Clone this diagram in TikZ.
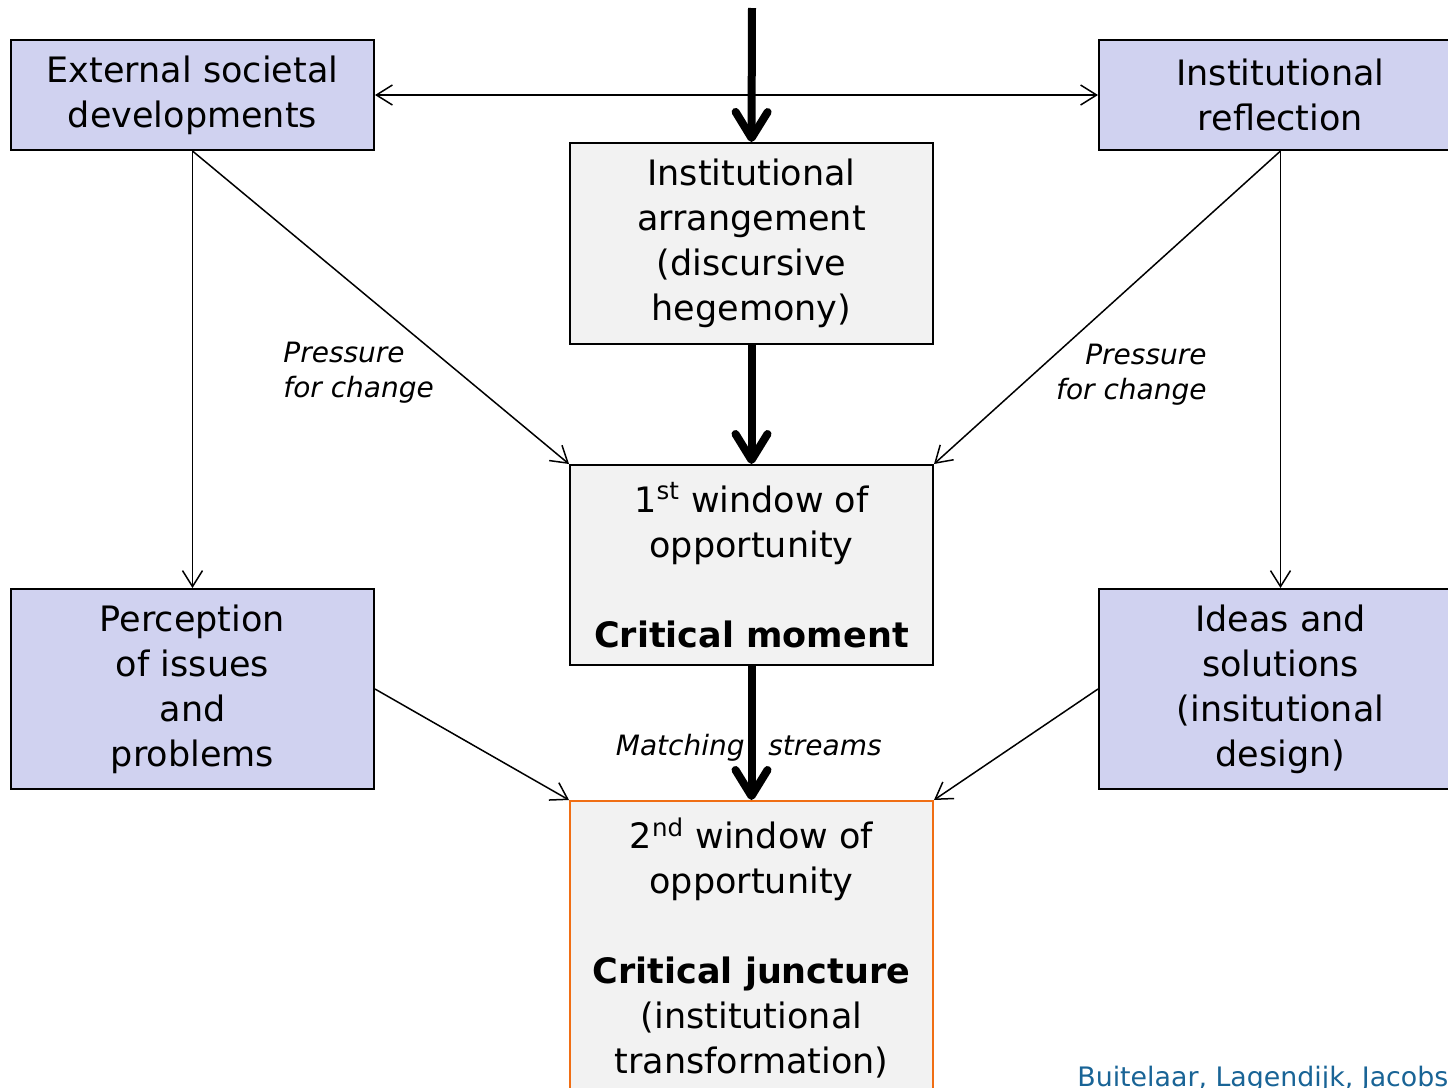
\documentclass[tikz,border=0pt]{standalone}
\usepackage{fontspec}
\setmainfont{DejaVu Sans}
\usetikzlibrary{arrows.meta}
\definecolor{lav}{RGB}{208,210,240}
\definecolor{lgray}{RGB}{242,242,242}
\definecolor{orng}{RGB}{240,110,20}
\definecolor{credit}{RGB}{25,100,150}
\begin{document}
\begin{tikzpicture}[x=0.5pt,y=-0.5pt,
  box/.style={draw=black, line width=1pt, minimum width=181.5pt, inner sep=0pt, align=center, font=\fontsize{17.5}{22.5}\selectfont},
  extbox/.style={box, fill=lav, minimum height=100pt},
  midbox/.style={box, fill=lgray, minimum height=100pt},
  conn/.style={line width=0.75pt, -{Straight Barb[length=8pt,width=10pt]}},
  bigarrow/.style={line width=4pt, -{Straight Barb[length=13pt,width=16pt,round]}},
  lbl/.style={font=\fontsize{14}{17.5}\selectfont\itshape, inner sep=0pt}]
\useasboundingbox (0,0) rectangle (1448,1088);
\fill[white] (0,0) rectangle (1448,1088);

% boxes
\node[extbox, minimum height=55pt] (L) at (192.5,95) {\raisebox{-1.5pt}{\parbox{170pt}{\centering External societal\\developments}}};
\node[extbox, minimum height=55pt] (R) at (1280.5,95) {Institutional\\reflection};
\node[midbox, minimum height=100.5pt] (A) at (751.5,243.5) {Institutional\\arrangement\\(discursive\\hegemony)};
\node[midbox] (W1) at (751.5,565) {1\textsuperscript{st} window of\\opportunity\\[22.5pt]\textbf{Critical moment}};
\node[extbox] (P) at (192.5,689) {Perception\\of issues\\and\\problems};
\node[extbox] (I) at (1280.5,689) {Ideas and\\solutions\\(insitutional\\design)};
\node[midbox, draw=orng, minimum height=147pt] (W2) at (751.5,948) {2\textsuperscript{nd} window of\\opportunity\\[22.5pt]\textbf{Critical juncture}\\(institutional\\transformation)};

% thin connectors
\draw[conn, {Straight Barb[length=8pt,width=10pt]}-{Straight Barb[length=8pt,width=10pt]}] (L.east) -- (R.west);
\draw[conn] (L.south) -- (P.north);
\draw[conn] (L.south) -- (W1.north west);
\draw[conn] (R.south) -- (I.north);
\draw[conn] (R.south) -- (W1.north east);
\draw[conn] (P.east) -- (W2.north west);
\draw[conn] (I.west) -- (W2.north east);

% thick connectors
\coordinate (top) at (752,8);
\draw[bigarrow] (top) -- (A.north);
\draw[bigarrow] (A.south) -- (W1.north);
\draw[bigarrow] (W1.south) -- (W2.north);

% labels
\node[lbl, anchor=north west, align=left] (pl) at (283,342) {Pressure\\for change};
\node[lbl, anchor=north east, align=right] (pr) at (1207,344) {Pressure\\for change};
\node[lbl, anchor=base east] (m1) at (745,755) {Matching};
\node[lbl, anchor=base west] (m2) at (768,755) {streams};
\node[inner sep=0pt, anchor=base west, text=credit, font=\fontsize{13.4}{15}\selectfont] (cr) at (1077,1086) {Buitelaar, Lagendijk, Jacobs};
\end{tikzpicture}
\end{document}
